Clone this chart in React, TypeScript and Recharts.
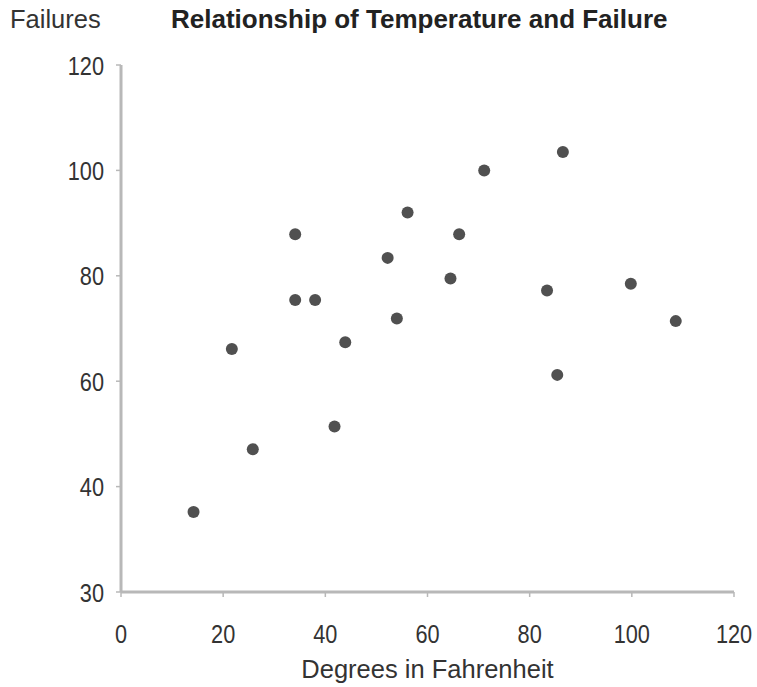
import { ScatterChart, Scatter, XAxis, YAxis } from "recharts";

const TEXT = "#333333";
const AXIS = "#b8b8b8";
const DOT = "#505050";
const FONT = "'Liberation Sans', Arial, sans-serif";

// temperature (°F) and failure count
const degrees = [14.2, 21.7, 25.8, 34.1, 34.1, 38.0, 43.9, 41.8, 52.2, 54.0, 56.1, 64.5, 66.2, 71.1, 83.4, 85.4, 86.5, 99.8, 108.6];
const failures = [35.2, 66.1, 47.1, 87.9, 75.4, 75.4, 67.4, 51.4, 83.4, 71.9, 92.0, 79.5, 87.9, 100.0, 77.2, 61.2, 103.5, 78.5, 71.4];

const xTicks = [0, 20, 40, 60, 80, 100, 120];
const yTicks = [20, 40, 60, 80, 100, 120];
// the bottom gridline of the original is labelled 30, although spaced like 20
const yTickLabels: Record<number, string> = { 20: "30" };

const points = degrees.map((x, i) => ({ x, y: failures[i] }));

// condensed tick text (no narrow font available, so squeeze it)
function NarrowTick(props: any) {
  const { x, y, payload, textAnchor, axis } = props;
  const label = axis === "y" ? yTickLabels[payload.value] ?? String(payload.value) : String(payload.value);
  const dy = axis === "y" ? 9.5 : 19;
  return (
    <text
      transform={`translate(${x},${y}) scale(0.82,1)`}
      dy={dy}
      textAnchor={textAnchor}
      fontSize={26.5}
      fill={TEXT}
      fontFamily={FONT}
    >
      {label}
    </text>
  );
}

function Dot(props: any) {
  const { cx, cy } = props;
  return <circle cx={cx} cy={cy} r={6} fill={DOT} />;
}

export default function App() {
  return (
    <div style={{ position: "relative", width: 757, height: 687, background: "#fff" }}>
      <style>{`body { margin: 0; }`}</style>
      <div
        style={{
          position: "absolute",
          left: 10,
          top: 4,
          fontFamily: FONT,
          fontSize: 25.5,
          color: TEXT,
          lineHeight: "30px",
        }}
      >
        Failures
      </div>
      <div
        style={{
          position: "absolute",
          left: 171,
          top: 4,
          fontFamily: FONT,
          fontWeight: "bold",
          fontSize: 26,
          color: "#222",
          lineHeight: "30px",
          whiteSpace: "nowrap",
        }}
      >
        Relationship of Temperature and Failure
      </div>
      <ScatterChart width={757} height={687} margin={{ top: 65, right: 23, bottom: 0, left: 0 }}>
        <XAxis
          type="number"
          dataKey="x"
          domain={[0, 120]}
          ticks={xTicks}
          interval={0}
          height={95}
          tickSize={5}
          tickMargin={27}
          axisLine={{ stroke: AXIS, strokeWidth: 3 }}
          tickLine={{ stroke: AXIS, strokeWidth: 1.5 }}
          tick={<NarrowTick axis="x" />}
          label={{
            value: "Degrees in Fahrenheit",
            position: "insideBottom",
            offset: 9,
            fontSize: 25.5,
            fill: TEXT,
            fontFamily: FONT,
          }}
        />
        <YAxis
          type="number"
          dataKey="y"
          domain={[20, 120]}
          ticks={yTicks}
          interval={0}
          width={121}
          tickSize={5}
          tickMargin={12}
          axisLine={{ stroke: AXIS, strokeWidth: 3 }}
          tickLine={{ stroke: AXIS, strokeWidth: 1.5 }}
          tick={<NarrowTick axis="y" />}
        />
        <Scatter data={points} fill={DOT} shape={<Dot />} isAnimationActive={false} />
      </ScatterChart>
    </div>
  );
}
